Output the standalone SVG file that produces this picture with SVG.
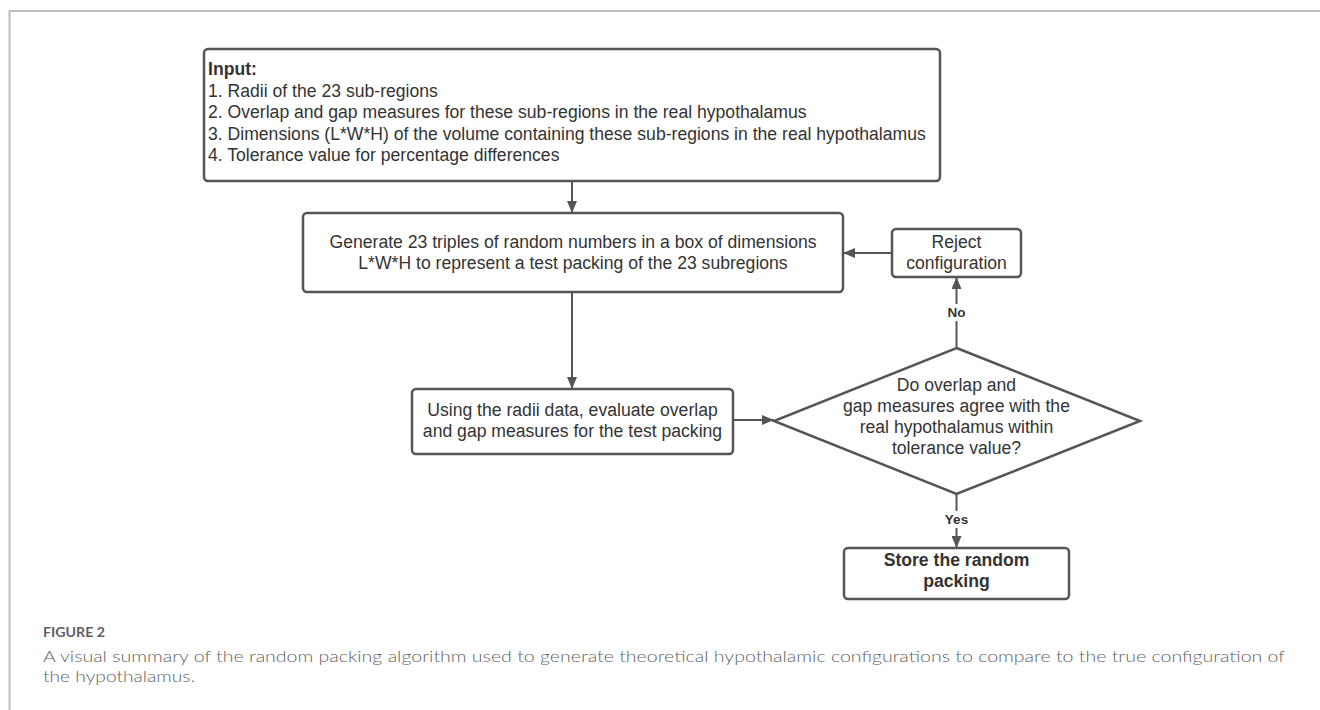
<svg xmlns="http://www.w3.org/2000/svg" width="1320" height="710" viewBox="0 0 1320 710">
<defs>
<style>
.box{fill:#fff;stroke:#555;stroke-width:2.5}
.t{font-family:"Liberation Sans",Arial,sans-serif;font-size:17.6px;fill:#333}
.c{text-anchor:middle}
.b{font-weight:bold}
.lbl{font-family:"Liberation Sans",Arial,sans-serif;font-size:13.5px;font-weight:bold;fill:#333;text-anchor:middle}
.conn{stroke:#555;stroke-width:2;fill:none}
.frame{stroke:#bdbdbd;stroke-width:2;fill:none}
.cap{font-family:Lato,"Open Sans","Liberation Sans",sans-serif;fill:#5f5f5f}
</style>
<marker id="ah" viewBox="0 0 12 10" refX="12" refY="5" markerWidth="12" markerHeight="10" markerUnits="userSpaceOnUse" orient="auto">
<path d="M0,0 L12,5 L0,10 z" fill="#555"/>
</marker>
</defs>
<rect width="1320" height="710" fill="#fff"/>
<path class="frame" d="M9.5,710 V11 H1320"/>

<g id="connectors">
<line class="conn" x1="572" y1="181" x2="572" y2="213" marker-end="url(#ah)"/>
<line class="conn" x1="572" y1="292" x2="572" y2="389" marker-end="url(#ah)"/>
<line class="conn" x1="733" y1="420" x2="774" y2="420" marker-end="url(#ah)"/>
<line class="conn" x1="956.5" y1="348" x2="956.5" y2="277" marker-end="url(#ah)"/>
<line class="conn" x1="892" y1="253" x2="843" y2="253" marker-end="url(#ah)"/>
<line class="conn" x1="956.5" y1="494" x2="956.5" y2="548" marker-end="url(#ah)"/>
<rect x="944" y="304" width="25" height="17" fill="#fff"/>
<text class="lbl" x="956.5" y="317">No</text>
<rect x="940" y="511" width="33" height="17" fill="#fff"/>
<text class="lbl" x="956.5" y="524">Yes</text>
</g>

<g id="input">
<rect class="box" x="204" y="49" width="736" height="132" rx="4"/>
<text class="t b" x="208" y="75">Input:</text>
<text class="t" x="208" y="96.5">1. Radii of the 23 sub-regions</text>
<text class="t" x="208" y="118">2. Overlap and gap measures for these sub-regions in the real hypothalamus</text>
<text class="t" x="208" y="139.5">3. Dimensions (L*W*H) of the volume containing these sub-regions in the real hypothalamus</text>
<text class="t" x="208" y="161">4. Tolerance value for percentage differences</text>
</g>

<g id="generate">
<rect class="box" x="303" y="213" width="540" height="79" rx="4"/>
<text class="t c" x="573" y="248">Generate 23 triples of random numbers in a box of dimensions</text>
<text class="t c" x="573" y="269">L*W*H to represent a test packing of the 23 subregions</text>
</g>

<g id="reject">
<rect class="box" x="892" y="229" width="129" height="48" rx="4"/>
<text class="t c" x="956.5" y="248">Reject</text>
<text class="t c" x="956.5" y="269">configuration</text>
</g>

<g id="evaluate">
<rect class="box" x="412" y="389" width="321" height="65" rx="4"/>
<text class="t c" x="572.5" y="416">Using the radii data, evaluate overlap</text>
<text class="t c" x="572.5" y="437">and gap measures for the test packing</text>
</g>

<g id="decision">
<polygon class="box" points="956.5,348 1140,421 956.5,494 774,421"/>
<text class="t c" x="956.5" y="391">Do overlap and</text>
<text class="t c" x="956.5" y="412">gap measures agree with the</text>
<text class="t c" x="956.5" y="433">real hypothalamus within</text>
<text class="t c" x="956.5" y="454">tolerance value?</text>
</g>

<g id="store">
<rect class="box" x="844" y="548" width="225" height="51" rx="4"/>
<text class="t c b" x="956.5" y="566">Store the random</text>
<text class="t c b" x="956.5" y="587">packing</text>
</g>

<g id="caption">
<text class="cap" x="43" y="637" font-size="13" font-weight="bold" textLength="62" lengthAdjust="spacingAndGlyphs">FIGURE 2</text>
<text class="cap" x="43" y="662" font-size="16.5" font-weight="300" textLength="1242" lengthAdjust="spacingAndGlyphs">A visual summary of the random packing algorithm used to generate theoretical hypothalamic configurations to compare to the true configuration of</text>
<text class="cap" x="43" y="682" font-size="16.5" font-weight="300" textLength="152" lengthAdjust="spacingAndGlyphs">the hypothalamus.</text>
</g>
</svg>
